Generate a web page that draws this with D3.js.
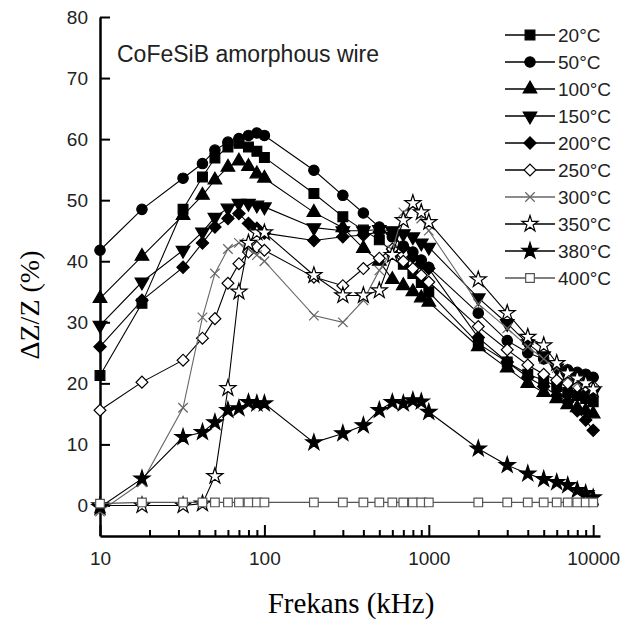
<!DOCTYPE html>
<html lang="en">
<head>
<meta charset="UTF-8">
<title>CoFeSiB amorphous wire</title>
<script src="https://d3js.org/d3.v7.min.js"></script>
<style>
    body { margin: 0; background: #fff; }
</style>
</head>
<body>
<div id="chart"></div>

<script type="text/javascript">
    var width = 624;
    var height = 626;

    // frequencies (kHz) shared by every curve
    var freqs = [10, 18, 32, 42, 50, 60, 70, 80, 90, 100, 200, 300, 400, 500, 600, 700, 800, 900, 1000,
        2000, 3000, 4000, 5000, 6000, 7000, 8000, 9000, 10000];

    // dZ/Z (%) for each annealing temperature
    var t20  = [21.3, 33.1, 48.5, 53.8, 56.9, 58.7, 59.3, 58.7, 58, 57, 51.1, 47.3, 45.1, 43.5, 41.5, 39.5, 38, 36.5, 35,
        26.5, 23.5, 21.5, 20.5, 19.5, 18.5, 18, 17.5, 17];
    var t50  = [41.8, 48.5, 53.6, 56, 58.2, 59.5, 60.1, 60.6, 61, 60.6, 54.9, 50.8, 47.9, 45.6, 44, 42.5, 41.5, 40.2, 39,
        31.5, 27, 25, 24, 23, 22.2, 21.8, 21.5, 21];
    var t100 = [33.9, 40.8, 47.5, 50.8, 53.3, 55.4, 56.4, 55.5, 54.3, 53.6, 48, 45.5, 42.1, 40, 37, 36, 35, 34, 33.3,
        26, 22.5, 20, 18.5, 17.5, 16.5, 16, 15.5, 15];
    var t150 = [29.5, 36.6, 41.8, 44.8, 47.2, 48.7, 49.5, 49.5, 49.2, 48.9, 45.5, 45, 45, 45.2, 45, 44.5, 44, 43, 42.3,
        34, 29.8, 26.5, 24.5, 22.5, 21, 20, 19, 18.5];
    var t200 = [26, 33.6, 39, 43, 45.6, 47, 47.8, 46.2, 45.4, 44.6, 43.4, 44, 44.3, 44.8, 44.5, 42.3, 40.7, 39.6, 38.8,
        27.5, 23.5, 21, 19.5, 18, 17, 15.5, 14, 12.3];
    var t250 = [15.6, 20.2, 23.8, 27.4, 30.6, 36.4, 39.6, 41.5, 42.3, 41.8, 37.4, 36, 38.8, 40.5, 42, 40, 38.8, 37.7, 36.6,
        29.3, 25.5, 23, 21.5, 20.5, 20, 19.5, 19.5, 19.5];
    var t300 = [-1, 3.8, 16, 30.8, 38, 42, 43, 42, 41, 40, 31.1, 30, 33.6, 38.5, 41.8, 48, 49, 47, 45,
        33, 29, 26, 24, 22.5, 21, 20, 19.5, 19];
    var t350 = [0, 0, 0, 0.3, 4.8, 19.2, 35, 43, 44.7, 44.7, 37.7, 34.4, 34.4, 35.2, 41, 46.7, 49.5, 48, 46.4,
        37, 31.5, 27.6, 26.2, 23.3, 21.6, 20.8, 20, 19];
    var t380 = [-0.3, 4.4, 11.2, 12, 13.6, 15.6, 15.9, 16.9, 16.7, 16.7, 10.3, 11.8, 13.1, 15.6, 16.9, 16.7, 17.2, 17, 15.3,
        9.3, 6.6, 5.2, 4.3, 3.8, 3.3, 2.5, 2, 1.3];
    var t400 = [0.3, 0.5, 0.5, 0.5, 0.5, 0.5, 0.5, 0.5, 0.5, 0.5, 0.5, 0.5, 0.5, 0.5, 0.5, 0.5, 0.5, 0.5, 0.5,
        0.5, 0.5, 0.5, 0.5, 0.5, 0.5, 0.5, 0.5, 0.5];

    var names = ["20°C", "50°C", "100°C", "150°C", "200°C", "250°C", "300°C", "350°C", "380°C", "400°C"];
    var yTicks = [0, 10, 20, 30, 40, 50, 60, 70, 80];
    var xTicks = [10, 100, 1000, 10000];

    // custom "x" marker
    var symbolX = {
        draw: function (ctx, size) {
            var r = Math.sqrt(size) / 2;
            ctx.moveTo(-r, -r); ctx.lineTo(r, r);
            ctx.moveTo(-r, r); ctx.lineTo(r, -r);
        }
    };

    // marker look for each curve
    var styles = [
        {type: d3.symbolSquare, size: 95, rot: 0, fill: "#000", line: "#000"},
        {type: d3.symbolCircle, size: 85, rot: 0, fill: "#000", line: "#000"},
        {type: d3.symbolTriangle, size: 80, rot: 0, fill: "#000", line: "#000"},
        {type: d3.symbolTriangle, size: 80, rot: 180, fill: "#000", line: "#000"},
        {type: d3.symbolSquare, size: 75, rot: 45, fill: "#000", line: "#000"},
        {type: d3.symbolSquare, size: 70, rot: 45, fill: "#fff", line: "#000"},
        {type: symbolX, size: 90, rot: 0, fill: "none", line: "#666"},
        {type: d3.symbolStar, size: 80, rot: 0, fill: "#fff", line: "#000"},
        {type: d3.symbolStar, size: 80, rot: 0, fill: "#000", line: "#000"},
        {type: d3.symbolSquare, size: 75, rot: 0, fill: "#fff", line: "#555"}
    ];

    var allValues = [t20, t50, t100, t150, t200, t250, t300, t350, t380, t400];
    var series = allValues.map(function (vals, i) {
        return {name: names[i], style: styles[i], points: freqs.map(function (f, j) { return [f, vals[j]]; })};
    });

    var svg = d3.select("#chart")
        .append("svg")
        .attr("width", width)
        .attr("height", height)
        .style("font-family", "'Liberation Sans', Arial, sans-serif");

    var x = d3.scaleLog().domain([10, 11000]).range([100, 600]);
    var y = d3.scaleLinear().domain([-5, 80]).range([536, 17]);

    // axes
    var yAxis = svg.append("g")
        .attr("transform", "translate(100,0)")
        .call(d3.axisLeft(y).tickValues(yTicks).tickSizeInner(-10).tickSizeOuter(0).tickPadding(12));

    var xAxis = svg.append("g")
        .attr("transform", "translate(0,536)")
        .call(d3.axisBottom(x).tickValues(xTicks).tickFormat(d3.format("d"))
            .tickSizeInner(-11).tickSizeOuter(0).tickPadding(16));

    var minor = x.ticks().filter(function (d) { return xTicks.indexOf(d) < 0 && d <= 10000; });
    svg.append("g")
        .attr("transform", "translate(0,536)")
        .call(d3.axisBottom(x).tickValues(minor).tickFormat("").tickSizeInner(-6).tickSizeOuter(0))
        .select(".domain").remove();

    svg.selectAll(".domain").attr("stroke", "#000").attr("stroke-width", 2.5);
    svg.selectAll(".tick line").attr("stroke", "#000").attr("stroke-width", 2);
    svg.selectAll(".tick text").attr("font-size", "19px").attr("fill", "#222")
        .attr("font-family", "'Liberation Sans', Arial, sans-serif");

    // curves
    var line = d3.line()
        .x(function (d) { return x(d[0]); })
        .y(function (d) { return y(d[1]); });

    series.forEach(function (s) {
        var g = svg.append("g");
        g.append("path")
            .attr("d", line(s.points))
            .attr("fill", "none")
            .attr("stroke", s.style.line)
            .attr("stroke-width", 1.1);

        g.selectAll("path.mk")
            .data(s.points)
            .enter()
            .append("path")
            .attr("class", "mk")
            .attr("d", d3.symbol().type(s.style.type).size(s.style.size))
            .attr("transform", function (d) {
                return "translate(" + x(d[0]) + "," + y(d[1]) + ") rotate(" + s.style.rot + ")";
            })
            .attr("fill", s.style.fill)
            .attr("stroke", s.style.line)
            .attr("stroke-width", 1.2);
    });

    // title
    svg.append("text")
        .attr("x", 117)
        .attr("y", 62)
        .attr("font-size", "23px")
        .attr("fill", "#222")
        .text("CoFeSiB amorphous wire");

    // legend
    var legend = svg.append("g");
    series.forEach(function (s, i) {
        var ly = 35 + i * 27;
        legend.append("line")
            .attr("x1", 505).attr("x2", 555)
            .attr("y1", ly).attr("y2", ly)
            .attr("stroke", s.style.line)
            .attr("stroke-width", 1.5);
        legend.append("path")
            .attr("d", d3.symbol().type(s.style.type).size(s.style.size)())
            .attr("transform", "translate(530," + ly + ") rotate(" + s.style.rot + ")")
            .attr("fill", s.style.fill)
            .attr("stroke", s.style.line)
            .attr("stroke-width", 1.2);
        legend.append("text")
            .attr("x", 558)
            .attr("y", ly + 7)
            .attr("font-size", "19px")
            .attr("fill", "#222")
            .text(s.name);
    });

    // axis titles
    svg.append("text")
        .attr("transform", "translate(39,305) rotate(-90)")
        .attr("text-anchor", "middle")
        .attr("font-family", "'Liberation Serif', 'Times New Roman', serif")
        .attr("font-size", "28px")
        .text("ΔZ/Z (%)");

    svg.append("text")
        .attr("x", 351)
        .attr("y", 613)
        .attr("text-anchor", "middle")
        .attr("font-family", "'Liberation Serif', 'Times New Roman', serif")
        .attr("font-size", "29px")
        .text("Frekans (kHz)");
</script>
</body>
</html>
